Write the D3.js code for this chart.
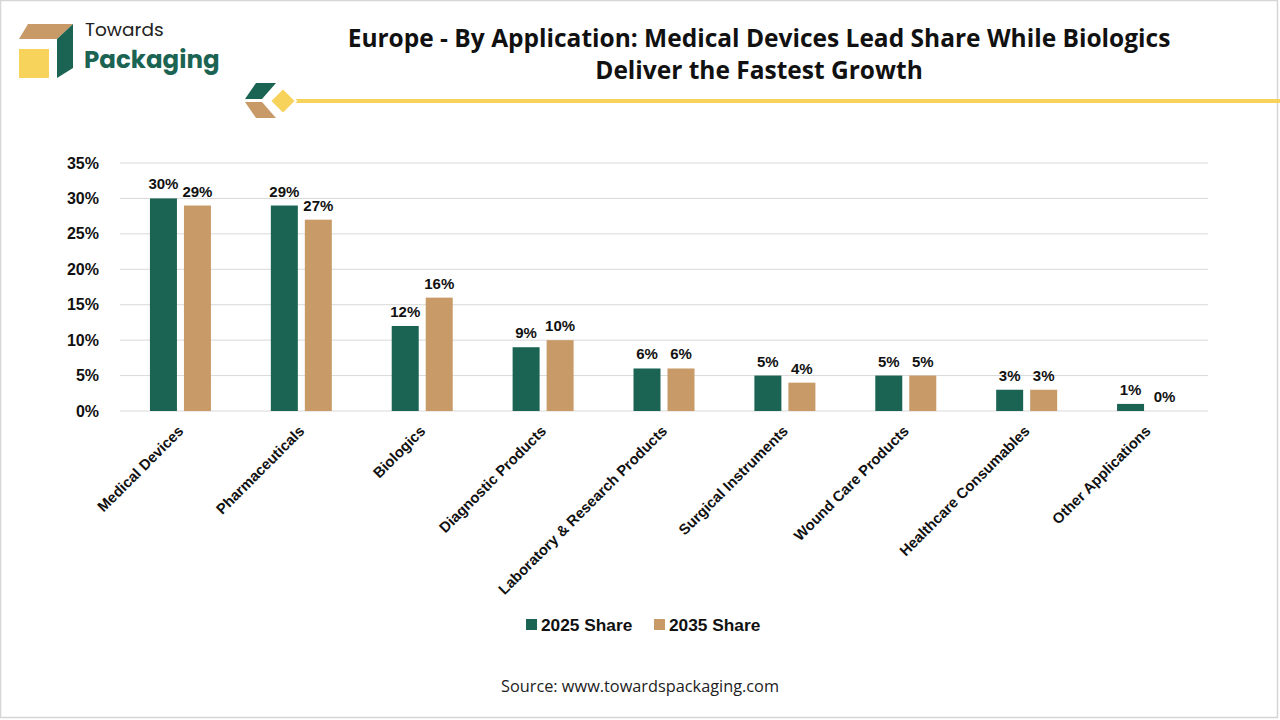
<!DOCTYPE html>
<html>
<head>
<meta charset="utf-8">
<script src="https://cdn.jsdelivr.net/npm/d3@7"></script>
<style>
  html, body { margin: 0; padding: 0; background: #fff; }
  svg { display: block; font-family: "Liberation Sans", Arial, sans-serif; }
</style>
</head>
<body>
<div id="container"></div>
<script>
const categories = ["Medical Devices", "Pharmaceuticals", "Biologics", "Diagnostic Products",
  "Laboratory & Research Products", "Surgical Instruments", "Wound Care Products",
  "Healthcare Consumables", "Other Applications"];
const share2025 = [30, 29, 12, 9, 6, 5, 5, 3, 1];
const share2035 = [29, 27, 16, 10, 6, 4, 5, 3, 0];
const seriesNames = ["2025 Share", "2035 Share"];
const yTicks = [0, 5, 10, 15, 20, 25, 30, 35];

const width = 1280
const height = 720
const green = "#1b6453"
const tan = "#c89a67"
const yellow = "#f7d35c"
const margin = {left: 120, right: 72, top: 163, bottom: 309}

const svg = d3.select("#container").append("svg").attr("width", width).attr("height", height);

// frame
svg.append("rect").attr("x", 0.5).attr("y", 0.5).attr("width", width - 3).attr("height", height - 3)
  .attr("fill", "#fff").attr("stroke", "#d6d6d6").attr("stroke-width", 1.5);

// logo
const logo = svg.append("g");
logo.append("polygon").attr("points", "28,24 73,24 57,39 19,39").attr("fill", tan);
logo.append("polygon").attr("points", "73,24 73,68 57,78 57,39").attr("fill", green);
logo.append("rect").attr("x", 19).attr("y", 49).attr("width", 30).attr("height", 29).attr("fill", yellow);
logo.append("text").attr("x", 85).attr("y", 36).attr("font-family", "Poppins, 'Open Sans', sans-serif")
  .attr("font-size", 18.5).attr("fill", "#222").text("Towards");
logo.append("text").attr("x", 84).attr("y", 68).attr("font-family", "Poppins, 'Open Sans', sans-serif")
  .attr("font-size", 24.5).attr("font-weight", 700).attr("fill", green).text("Packaging");

// title
const title = svg.append("text").attr("text-anchor", "middle").attr("font-family", "'Open Sans', sans-serif")
  .attr("font-size", 24.5).attr("font-weight", 700).attr("fill", "#111");
title.append("tspan").attr("x", 759).attr("y", 47).text("Europe - By Application: Medical Devices Lead Share While Biologics");
title.append("tspan").attr("x", 759).attr("y", 79).text("Deliver the Fastest Growth");

// decorative line + diamond
svg.append("line").attr("x1", 285).attr("x2", 1280).attr("y1", 101).attr("y2", 101)
  .attr("stroke", yellow).attr("stroke-width", 4);
svg.append("polygon").attr("points", "256,83 276,83 262,99 245,99").attr("fill", green);
svg.append("polygon").attr("points", "245,102 262,102 276,118 256,118").attr("fill", tan);
svg.append("polygon").attr("points", "283,88 296,101 283,114 270,101").attr("fill", yellow)
  .attr("stroke", "#fff").attr("stroke-width", 2);

// scales
const x = d3.scaleBand().domain(categories).range([margin.left, width - margin.right]);
const y = d3.scaleLinear().domain([0, 35]).range([height - margin.bottom, margin.top]);
const barW = 27, gap = 7;

// grid
svg.append("g").selectAll("line").data(yTicks).join("line")
  .attr("x1", margin.left).attr("x2", width - margin.right)
  .attr("y1", d => y(d)).attr("y2", d => y(d))
  .attr("stroke", "#d9d9d9").attr("stroke-width", 1);

// y axis labels
const yAxis = svg.append("g").attr("transform", `translate(${margin.left - 18},0)`)
  .call(d3.axisLeft(y).tickValues(yTicks).tickFormat(d => d + "%").tickSize(0));
yAxis.select(".domain").remove();
yAxis.selectAll("text").attr("font-size", 16).attr("font-weight", 700).attr("fill", "#111")
  .attr("font-family", "'Liberation Sans', Arial, sans-serif").attr("dx", 0);

// bars
const series = [share2025, share2035];
const colors = [green, tan];
series.forEach((vals, si) => {
  const off = si === 0 ? -(barW + gap / 2) : gap / 2;
  const g = svg.append("g");
  g.selectAll("rect").data(vals).join("rect")
    .attr("x", (d, i) => x(categories[i]) + x.bandwidth() / 2 + off)
    .attr("y", d => y(d))
    .attr("width", barW)
    .attr("height", d => y(0) - y(d))
    .attr("fill", colors[si]);
  g.selectAll("text").data(vals).join("text")
    .attr("x", (d, i) => x(categories[i]) + x.bandwidth() / 2 + off + barW / 2)
    .attr("y", d => y(d) - 9)
    .attr("text-anchor", "middle").attr("font-size", 15).attr("font-weight", 700).attr("fill", "#111")
    .text(d => d + "%");
});

// x labels
svg.append("g").selectAll("text").data(categories).join("text")
  .attr("transform", d => `translate(${x(d) + x.bandwidth() / 2 + 4},${y(0) + 21}) rotate(-45)`)
  .attr("text-anchor", "end").attr("font-size", 14.8).attr("font-weight", 700).attr("fill", "#111")
  .text(d => d);

// legend
const legend = svg.append("g");
const legendX = [526, 654];
seriesNames.forEach((n, i) => {
  legend.append("rect").attr("x", legendX[i]).attr("y", 619).attr("width", 11).attr("height", 11).attr("fill", colors[i]);
  legend.append("text").attr("x", legendX[i] + 15).attr("y", 631).attr("font-size", 17.3).attr("font-weight", 700)
    .attr("fill", "#111").text(n);
});

// source
svg.append("text").attr("x", 640).attr("y", 692).attr("text-anchor", "middle")
  .attr("font-family", "'Open Sans', sans-serif").attr("font-size", 16.5).attr("fill", "#222")
  .attr("textLength", 278).attr("lengthAdjust", "spacingAndGlyphs")
  .text("Source: www.towardspackaging.com");
</script>
</body>
</html>
